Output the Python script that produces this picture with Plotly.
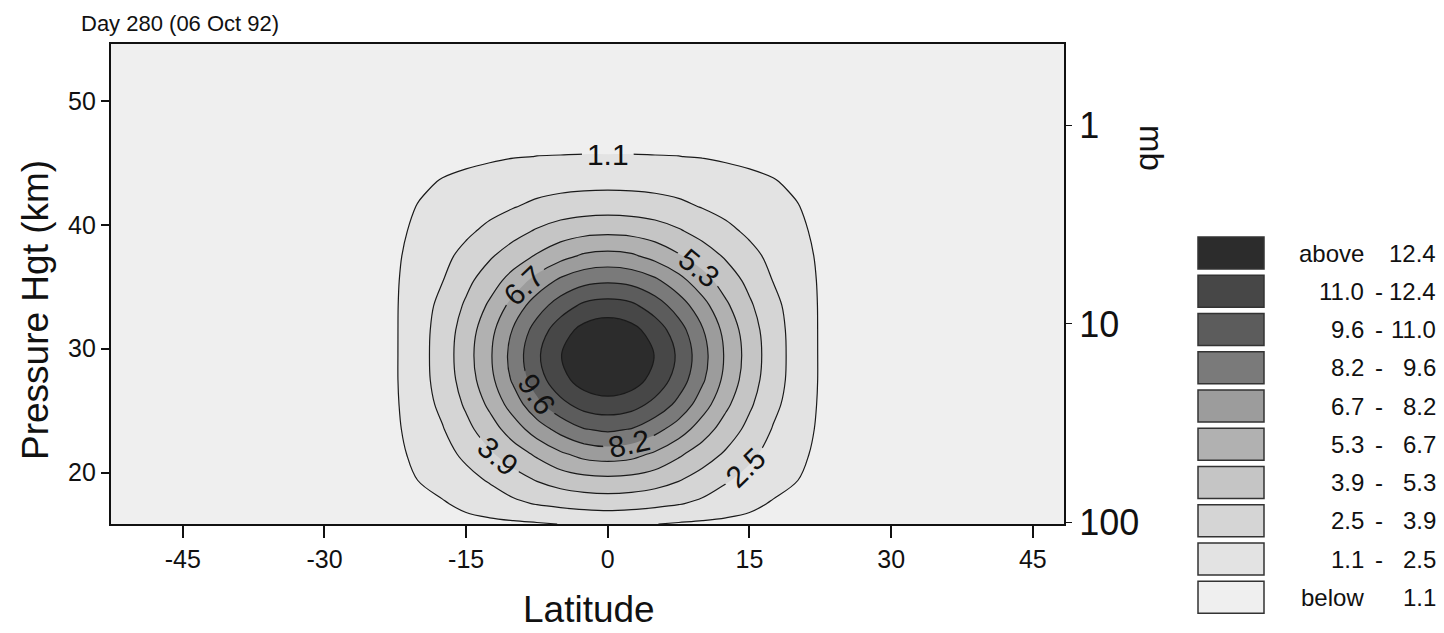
import plotly.graph_objects as go

# ---------------- data ----------------
latitudes = [-52.6, -25, -22.5, -20, -17.5, -15, -12.5, -10, -7.5, -5, -2.5, 0,
             2.5, 5, 7.5, 10, 12.5, 15, 17.5, 20, 22.5, 25, 48.3]
heights_km = [15.85, 17.5, 19.5, 21.5, 23.5, 25.5, 27.5, 29.5, 31.5, 33.5, 35.5,
              37.5, 39.5, 41.5, 43.5, 45.5, 47.5, 50.5, 54.6]

row_15_85 = [0.15, .2, .38, .5, .6, .68, .78, .88, .98, 1.12, 1.25, 1.33, 1.25, 1.12, .98, .88, .78, .68, .6, .5, .38, .2, 0.15]
row_17_5 = [0.15, .22, .45, .65, .98, 1.43, 1.84, 2.25, 2.6, 2.85, 3.05, 3.15, 3.05, 2.85, 2.6, 2.25, 1.84, 1.43, .98, .65, .45, .22, 0.15]
row_19_5 = [0.15, .25, .61, 1.16, 1.65, 2.14, 2.68, 3.38, 4.08, 4.65, 4.99, 5.1, 4.99, 4.65, 4.08, 3.38, 2.68, 2.14, 1.65, 1.16, .61, .25, 0.15]
row_21_5 = [0.15, .28, .78, 1.45, 2.07, 2.79, 3.74, 4.65, 5.57, 6.53, 7.22, 7.45, 7.22, 6.53, 5.57, 4.65, 3.74, 2.79, 2.07, 1.45, .78, .28, 0.15]
row_23_5 = [0.15, .3, .9, 1.68, 2.43, 3.53, 4.7, 6.03, 7.48, 8.64, 9.52, 9.82, 9.52, 8.64, 7.48, 6.03, 4.7, 3.53, 2.43, 1.68, .9, .3, 0.15]
row_25_5 = [0.15, .3, .96, 1.85, 2.84, 4.14, 5.63, 7.42, 9.19, 10.59, 11.55, 11.84, 11.55, 10.59, 9.19, 7.42, 5.63, 4.14, 2.84, 1.85, .96, .3, 0.15]
row_27_5 = [0.15, .3, .99, 1.97, 3.1, 4.58, 6.33, 8.4, 10.35, 11.94, 13.05, 13.5, 13.05, 11.94, 10.35, 8.4, 6.33, 4.58, 3.1, 1.97, .99, .3, 0.15]
row_29_5 = [0.15, .3, .99, 1.98, 3.17, 4.74, 6.55, 8.69, 10.75, 12.34, 13.75, 14.3, 13.75, 12.34, 10.75, 8.69, 6.55, 4.74, 3.17, 1.98, .99, .3, 0.15]
row_31_5 = [0.15, .3, .99, 1.96, 3.11, 4.57, 6.29, 8.29, 10.19, 11.78, 12.85, 13.25, 12.85, 11.78, 10.19, 8.29, 6.29, 4.57, 3.11, 1.96, .99, .3, 0.15]
row_33_5 = [0.15, .3, .99, 1.89, 2.88, 4.13, 5.57, 7.26, 8.92, 10.27, 11.27, 11.56, 11.27, 10.27, 8.92, 7.26, 5.57, 4.13, 2.88, 1.89, .99, .3, 0.15]
row_35_5 = [0.15, .3, .97, 1.75, 2.48, 3.56, 4.68, 5.92, 7.24, 8.44, 9.15, 9.38, 9.15, 8.44, 7.24, 5.92, 4.68, 3.56, 2.48, 1.75, .97, .3, 0.15]
row_37_5 = [0.15, .3, .92, 1.57, 2.17, 2.89, 3.75, 4.61, 5.47, 6.28, 6.95, 7.16, 6.95, 6.28, 5.47, 4.61, 3.75, 2.89, 2.17, 1.57, .92, .3, 0.15]
row_39_5 = [0.15, .28, .82, 1.37, 1.82, 2.28, 2.82, 3.44, 4.07, 4.6, 4.91, 5.02, 4.91, 4.6, 4.07, 3.44, 2.82, 2.28, 1.82, 1.37, .82, .28, 0.15]
row_41_5 = [0.15, .25, .69, 1.16, 1.47, 1.79, 2.11, 2.43, 2.8, 3.08, 3.25, 3.31, 3.25, 3.08, 2.8, 2.43, 2.11, 1.79, 1.47, 1.16, .69, .25, 0.15]
row_43_5 = [0.15, .22, .56, .875, 1.17, 1.38, 1.6, 1.77, 1.9, 2.0, 2.06, 2.08, 2.06, 2.0, 1.9, 1.77, 1.6, 1.38, 1.17, .875, .56, .22, 0.15]
row_45_5 = [0.15, .2, .48, .6, .71, .83, .94, 1.06, 1.11, 1.12, 1.13, 1.13, 1.13, 1.12, 1.11, 1.06, .94, .83, .71, .6, .48, .2, 0.15]
row_47_5 = [0.15, .2, .42, .51, .58, .66, .73, .78, .81, .83, .84, .84, .84, .83, .81, .78, .73, .66, .58, .51, .42, .2, 0.15]
row_50_5 = [0.12, .18, .28, .32, .35, .38, .4, .42, .43, .44, .45, .45, .45, .44, .43, .42, .4, .38, .35, .32, .28, .18, 0.12]
row_54_6 = [0.1, .15, .2, .23, .25, .26, .27, .28, .29, .3, .3, .3, .3, .3, .29, .28, .27, .26, .25, .23, .2, .15, 0.1]

field = [row_15_85, row_17_5, row_19_5, row_21_5, row_23_5, row_25_5, row_27_5,
         row_29_5, row_31_5, row_33_5, row_35_5, row_37_5, row_39_5, row_41_5,
         row_43_5, row_45_5, row_47_5, row_50_5, row_54_6]

x_ticks = [-45, -30, -15, 0, 15, 30, 45]
x_tick_text = ["-45", "-30", "-15", "0", "15", "30", "45"]
y_ticks = [20, 30, 40, 50]
p_ticks = [1, 10, 100]
p_tick_text = ["1", "10", "100"]

band_left = ["above", "11.0", "9.6", "8.2", "6.7", "5.3", "3.9", "2.5", "1.1", "below"]
band_right = ["12.4", "12.4", "11.0", "9.6", "8.2", "6.7", "5.3", "3.9", "2.5", "1.1"]
band_colors = ["#2c2c2c", "#474747", "#5c5c5c", "#7a7a7a", "#9c9c9c",
               "#b1b1b1", "#c5c5c5", "#d5d5d5", "#e3e3e3", "#efefef"]

# contour levels (uniform spacing, labels rounded to one decimal)
lev_start, lev_size = 1.0999, 1.41249
lev_end = 12.3999
lev_labelled_end = 9.5749

# ---------------- layout geometry ----------------
W, H = 1444, 633
PL, PR, PT, PB = 111, 1064, 44, 524
FONT = "Liberation Sans, Arial, Helvetica, sans-serif"


def px(x):
    return (x - PL) / (PR - PL)


def py(y):
    return (PB - y) / (PB - PT)


fill_colors = band_colors[::-1]
colorscale = [[k / 9, c] for k, c in enumerate(fill_colors)]

fig = go.Figure()
# filled bands (no lines)
fig.add_trace(go.Contour(
    x=latitudes, y=heights_km, z=field,
    contours=dict(start=lev_start, end=lev_end, size=lev_size, coloring="fill"),
    colorscale=colorscale, showscale=False,
    line=dict(width=0), hoverinfo="skip",
))
# labelled contour lines 1.1 .. 9.6
fig.add_trace(go.Contour(
    x=latitudes, y=heights_km, z=field,
    contours=dict(start=lev_start, end=lev_labelled_end, size=lev_size, coloring="none",
                  showlabels=True, labelformat=".1f",
                  labelfont=dict(size=30, color="#111", family=FONT)),
    line=dict(color="#1a1a1a", width=1.2), showscale=False, hoverinfo="skip",
))
# unlabelled inner lines 11.0, 12.4
fig.add_trace(go.Contour(
    x=latitudes, y=heights_km, z=field,
    contours=dict(start=lev_labelled_end + lev_size, end=lev_end, size=lev_size,
                  coloring="none", showlabels=False),
    line=dict(color="#1a1a1a", width=1.2), showscale=False, hoverinfo="skip",
))
# empty trace that carries the pressure axis
fig.add_trace(go.Scatter(x=[], y=[], yaxis="y2", showlegend=False, hoverinfo="skip"))

z_bot, z_top = heights_km[0], heights_km[-1]
fig.update_layout(
    width=W, height=H,
    margin=dict(l=PL, r=W - PR, t=PT, b=H - PB),
    paper_bgcolor="white", plot_bgcolor="#efefef",
    font=dict(family=FONT, color="#111"),
    showlegend=False,
    xaxis=dict(range=[latitudes[0], latitudes[-1]], tickvals=x_ticks, ticktext=x_tick_text,
               ticks="outside", ticklen=12, tickwidth=1.5, tickcolor="#111",
               showline=True, linewidth=2.2, linecolor="#111", mirror=True,
               showgrid=False, zeroline=False, tickfont=dict(size=25)),
    yaxis=dict(range=[z_bot, z_top], tickvals=y_ticks,
               ticks="outside", ticklen=8, tickwidth=1.5, tickcolor="#111",
               showline=True, linewidth=2.2, linecolor="#111", mirror=True,
               showgrid=False, zeroline=False, tickfont=dict(size=25)),
    yaxis2=dict(overlaying="y", side="right", type="log",
                range=[3 - z_bot / 16, 3 - z_top / 16],
                tickvals=p_ticks, ticktext=p_tick_text,
                ticks="outside", ticklen=7, tickwidth=1, tickcolor="#111",
                showline=False, showgrid=False, zeroline=False,
                tickfont=dict(size=36)),
)

ann = []
ann.append(dict(text="Day 280 (06 Oct 92)", x=px(79), y=py(24), xref="paper", yref="paper",
                xanchor="left", yanchor="middle", showarrow=False, font=dict(size=22)))
ann.append(dict(text="Latitude", x=px(589), y=py(609), xref="paper", yref="paper",
                xanchor="center", yanchor="middle", showarrow=False, font=dict(size=37)))
ann.append(dict(text="Pressure Hgt (km)", x=px(35), y=py(310), xref="paper", yref="paper",
                xanchor="center", yanchor="middle", showarrow=False, textangle=-90,
                font=dict(size=37)))
ann.append(dict(text="mb", x=px(1152), y=py(148), xref="paper", yref="paper",
                xanchor="center", yanchor="middle", showarrow=False, textangle=90,
                font=dict(size=33)))

shapes = []
box_top0, pitch, box_h = 237, 38.26, 32
for k in range(10):
    top = box_top0 + k * pitch
    shapes.append(dict(type="rect", xref="paper", yref="paper",
                       x0=px(1198), x1=px(1264), y0=py(top + box_h), y1=py(top),
                       fillcolor=band_colors[k], line=dict(color="#333", width=1.5)))
    cy = py(top + box_h / 2)
    ann.append(dict(text=band_left[k], x=px(1366), y=cy, xref="paper", yref="paper",
                    xanchor="right", yanchor="middle", showarrow=False, font=dict(size=24)))
    if band_left[k] not in ("above", "below"):
        ann.append(dict(text="-", x=px(1379), y=cy, xref="paper", yref="paper",
                        xanchor="center", yanchor="middle", showarrow=False, font=dict(size=24)))
    ann.append(dict(text=band_right[k], x=px(1438), y=cy, xref="paper", yref="paper",
                    xanchor="right", yanchor="middle", showarrow=False, font=dict(size=24)))

fig.update_layout(annotations=ann, shapes=shapes)
fig.write_html("out.html")
